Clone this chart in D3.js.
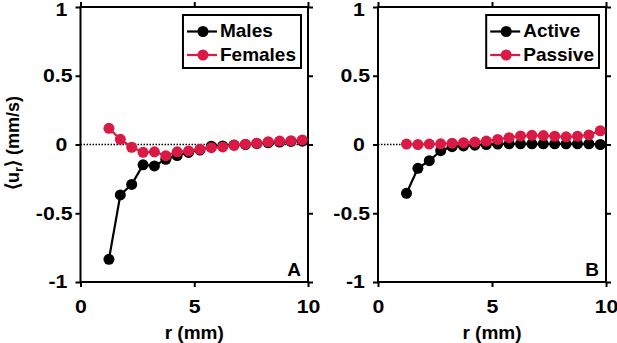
<!DOCTYPE html>
<html>
<head>
<meta charset="utf-8">
<script src="https://cdn.jsdelivr.net/npm/d3@7"></script>
<style>
body { margin: 0; background: #fff; }
text { font-family: "Liberation Sans", Arial, sans-serif; font-weight: bold; fill: #000; }
</style>
</head>
<body>
<div id="plot"></div>
<script>
// r positions of the bins (mm)
let radius = [1.25, 1.75, 2.25, 2.75, 3.25, 3.75, 4.25, 4.75, 5.25, 5.75, 6.25, 6.75, 7.25, 7.75, 8.25, 8.75, 9.25, 9.75];

// panel A
let males = [-0.835, -0.367, -0.29, -0.148, -0.156, -0.108, -0.08, -0.058, -0.04, -0.012, -0.01, -0.004, 0, 0.007, 0.012, 0.018, 0.022, 0.024];
let females = [0.118, 0.038, -0.02, -0.057, -0.053, -0.081, -0.053, -0.047, -0.035, -0.023, -0.018, -0.006, 0.002, 0.01, 0.02, 0.025, 0.028, 0.033];

// panel B
let active = [-0.355, -0.173, -0.118, -0.045, -0.016, -0.01, -0.005, 0, 0.003, 0.005, 0.005, 0.005, 0.005, 0.005, 0.005, 0.005, 0.005, 0];
let passive = [0.003, 0, 0.003, 0.005, 0.01, 0.013, 0.018, 0.025, 0.037, 0.05, 0.062, 0.067, 0.065, 0.06, 0.056, 0.06, 0.07, 0.1];

let xTicks = [0, 5, 10];
let yTicks = [-1, -0.5, 0, 0.5, 1];
let legendA = ["Males", "Females"];
let legendB = ["Active", "Passive"];

const black = "#000";
const red = "#da1a44";
const stretch = 1.15; // tick digits in the figure are wide

let svg = d3.select("#plot")
    .append("svg")
    .attr("width", 617)
    .attr("height", 343);

let drawPanel = function (left, right, first, second, names, label) {
    const top = 7;
    const bottom = 282;

    let x = d3.scaleLinear().domain([0, 10]).range([left, right]);
    let y = d3.scaleLinear().domain([-1, 1]).range([bottom, top]);

    let g = svg.append("g");

    // zero line
    g.append("line")
        .attr("x1", x(0)).attr("x2", x(10))
        .attr("y1", y(0)).attr("y2", y(0))
        .attr("stroke", black)
        .attr("stroke-width", 1.5)
        .attr("stroke-dasharray", "1.5,1.5");

    // axes, ticks outward on all sides
    let fmt = d => String(d);
    let axes = [
        d3.axisBottom(x).tickValues(xTicks).tickSize(5).tickPadding(13).tickFormat(fmt),
        d3.axisTop(x).tickValues(xTicks).tickSize(5).tickFormat(""),
        d3.axisLeft(y).tickValues(yTicks).tickSize(5).tickPadding(3).tickFormat(fmt),
        d3.axisRight(y).tickValues(yTicks).tickSize(5).tickFormat("")
    ];
    let shifts = [`translate(0,${bottom})`, `translate(0,${top})`, `translate(${left},0)`, `translate(${right},0)`];
    axes.forEach((a, i) => {
        let ag = g.append("g").attr("transform", shifts[i]).call(a);
        ag.select(".domain").remove();
        ag.selectAll("line").attr("stroke", black).attr("stroke-width", 2);
        ag.selectAll("text")
            .attr("font-size", 18.5)
            .attr("font-family", null)
            .attr("transform", `scale(${stretch},1)`)
            .attr("x", function () { return (+this.getAttribute("x") || 0) / stretch; });
        if (i === 2) {
            // integer labels sit further out, top label kept inside the page
            ag.selectAll("text")
                .attr("dx", d => Number.isInteger(d) ? -4.5 : 0)
                .attr("y", d => d === 1 ? 3 : 0);
        }
    });

    g.append("rect")
        .attr("x", left).attr("y", top)
        .attr("width", right - left).attr("height", bottom - top)
        .attr("fill", "none")
        .attr("stroke", black)
        .attr("stroke-width", 2);

    // series
    let line = d3.line().x((d, i) => x(radius[i])).y(d => y(d));
    [[first, black], [second, red]].forEach(s => {
        g.append("path")
            .attr("d", line(s[0]))
            .attr("fill", "none")
            .attr("stroke", s[1])
            .attr("stroke-width", 2.2);
        g.selectAll(null)
            .data(s[0])
            .enter()
            .append("circle")
            .attr("cx", (d, i) => x(radius[i]))
            .attr("cy", d => y(d))
            .attr("r", 5.5)
            .attr("fill", s[1]);
    });

    // x label
    g.append("text")
        .attr("x", (left + right) / 2)
        .attr("y", 339)
        .attr("text-anchor", "middle")
        .attr("font-size", 19)
        .text("r (mm)");

    // panel letter
    g.append("text")
        .attr("x", right - 7)
        .attr("y", 276)
        .attr("text-anchor", "end")
        .attr("font-size", 19)
        .text(label);

    // legend
    let lg = g.append("g");
    let box = lg.append("rect")
        .attr("fill", "#fff")
        .attr("stroke", black)
        .attr("stroke-width", 2);
    let widest = 0;
    let labels = names.map((n, i) => {
        let t = lg.append("text")
            .attr("y", 37 + i * 23.5)
            .attr("font-size", 19)
            .text(n);
        widest = Math.max(widest, t.node().getComputedTextLength());
        return t;
    });
    let boxRight = right - 7;
    let boxLeft = boxRight - (widest + 4 + 30 + 3 + 5);
    box.attr("x", boxLeft).attr("y", 15)
        .attr("width", boxRight - boxLeft).attr("height", 53);
    labels.forEach((t, i) => {
        let c = i === 0 ? black : red;
        let cy = 31.5 + i * 23.5;
        t.attr("x", boxLeft + 37);
        lg.append("line")
            .attr("x1", boxLeft + 4).attr("x2", boxLeft + 34)
            .attr("y1", cy).attr("y2", cy)
            .attr("stroke", c).attr("stroke-width", 2.2);
        lg.append("circle")
            .attr("cx", boxLeft + 20).attr("cy", cy)
            .attr("r", 5.5).attr("fill", c);
    });
};

drawPanel(80.5, 308, males, females, legendA, "A");
drawPanel(378, 606, active, passive, legendB, "B");

// y label, only on the left panel
let ylab = svg.append("text")
    .attr("transform", "translate(19,143) rotate(-90)")
    .attr("text-anchor", "middle")
    .attr("font-size", 18);
ylab.append("tspan").attr("font-size", 19).text("\u27E8");
ylab.append("tspan").text("u");
ylab.append("tspan").attr("font-size", 13).attr("dy", 4).text("r");
ylab.append("tspan").attr("font-size", 19).attr("dy", -4).text("\u27E9");
ylab.append("tspan").text(" (mm/s)");
</script>
</body>
</html>
